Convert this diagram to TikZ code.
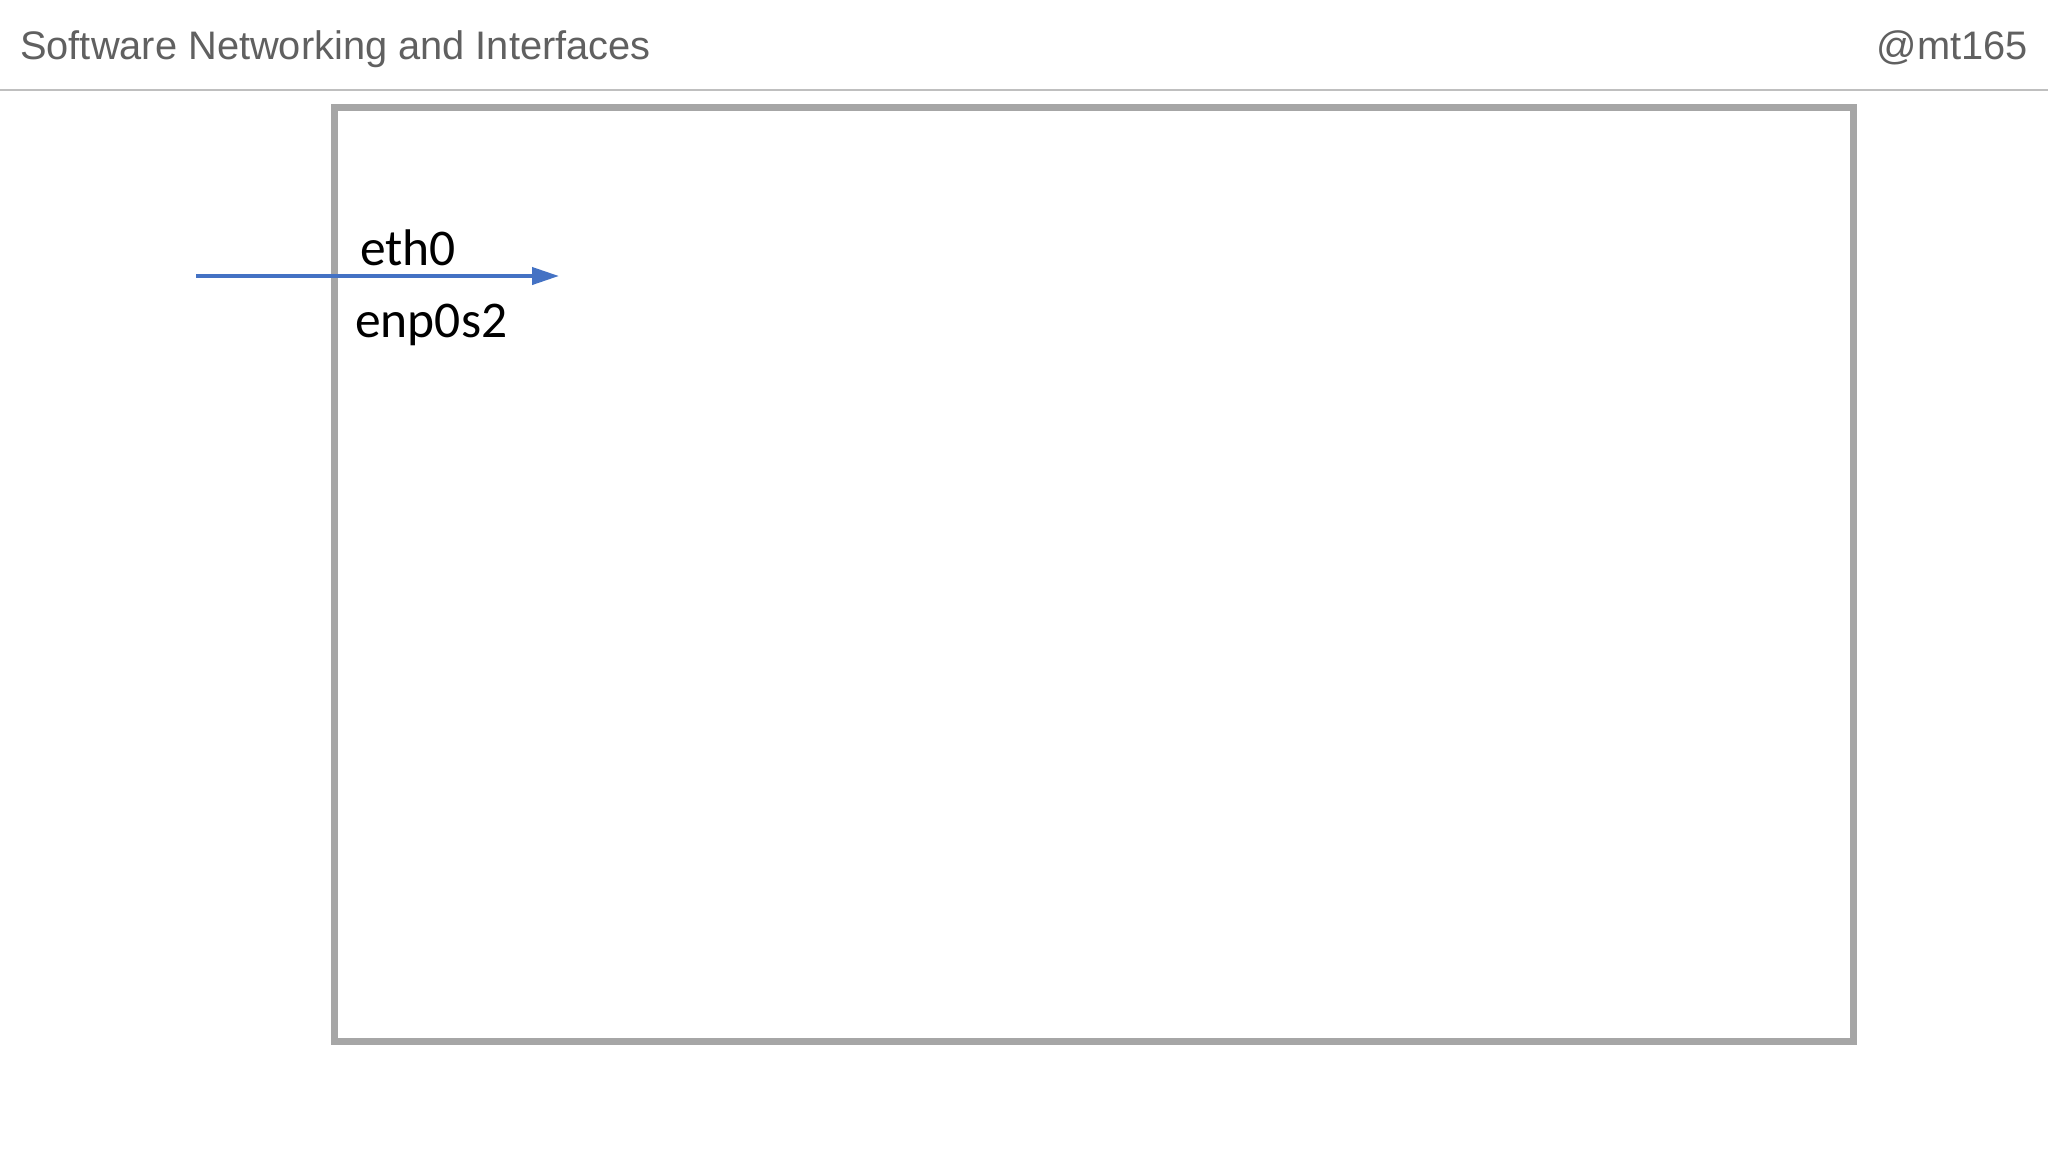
\documentclass[tikz,border=0pt]{standalone}
\usepackage{fontspec}
\setmainfont{Liberation Sans}
\newfontfamily\calfont{Carlito}
\usetikzlibrary{arrows.meta}
\definecolor{hdrgray}{HTML}{606060}
\definecolor{rulegray}{HTML}{BFBFBF}
\definecolor{boxgray}{HTML}{A6A6A6}
\definecolor{arrowblue}{HTML}{4472C4}
\tikzset{
  header/.style={font=\fontsize{39.8}{48}\selectfont, text=hdrgray, inner sep=0pt},
  iflabel/.style={font=\calfont\fontsize{51.5}{60}\selectfont, text=black, inner sep=0pt, anchor=base west},
  hostbox/.style={draw=boxgray, line width=7pt, outer sep=0pt, inner sep=0pt},
  link/.style={draw=arrowblue, line width=4pt, -{Triangle[length=27pt,width=17pt]}}
}
\begin{document}
\begin{tikzpicture}[x=1pt,y=-1pt]
\useasboundingbox[fill=white] (0,0) rectangle (2048,1152);
\node[header, anchor=base west] (title) at (20,59) {Software Networking and Interfaces};
\node[header, anchor=base east] (handle) at (2028,59) {@mt165};
\coordinate (ruleL) at (0,90);
\coordinate (ruleR) at (2048,90);
\draw[rulegray, line width=2pt] (ruleL) -- (ruleR);
\node[hostbox, anchor=north west, minimum width=1519pt, minimum height=934pt] (host) at (334,107) {};
\node[iflabel] (eth) at (360,265) {eth0};
\node[iflabel] (enp) at (355,337) {enp0s2};
\coordinate (linkS) at (196,276);
\coordinate (linkE) at (559,276);
\draw[link] (linkS) -- (linkE);
\end{tikzpicture}
\end{document}
